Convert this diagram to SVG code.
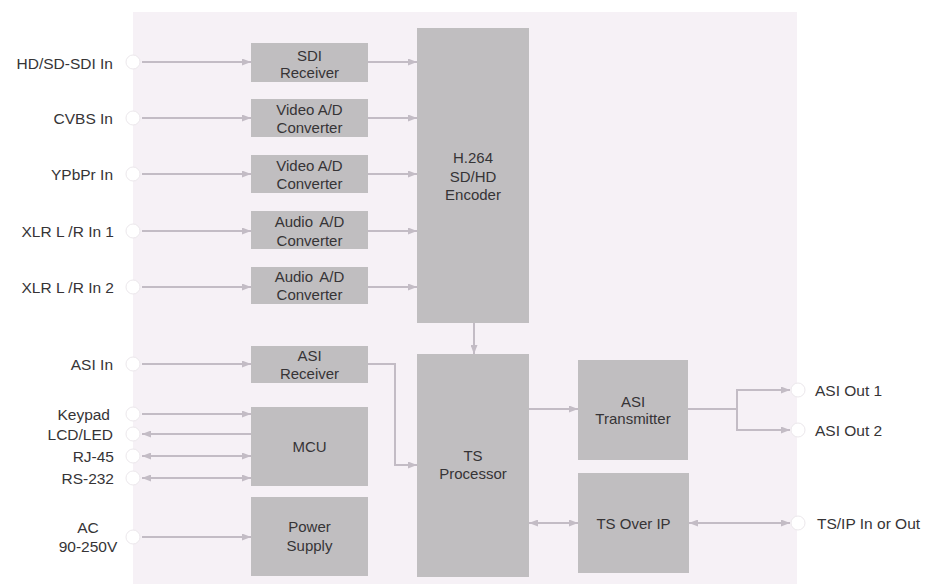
<svg xmlns="http://www.w3.org/2000/svg" width="952" height="584" viewBox="0 0 952 584">
<defs>
<marker id="ah" viewBox="0 0 9 7" refX="9" refY="3.5" markerWidth="9" markerHeight="7" markerUnits="userSpaceOnUse" orient="auto-start-reverse">
<path d="M0,0 L9,3.5 L0,7 z" fill="#c3bcc5"/>
</marker>
<style>
.box{fill:#c0bec0;}
.bt{font-family:"Liberation Sans",Arial,sans-serif;font-size:15px;fill:#363436;text-anchor:middle;}
.lt{font-family:"Liberation Sans",Arial,sans-serif;font-size:15.5px;fill:#363436;text-anchor:end;}
.rt{font-family:"Liberation Sans",Arial,sans-serif;font-size:15.5px;fill:#363436;text-anchor:start;}
.port{fill:#ffffff;stroke:#ece8ec;stroke-width:1;}
.c{stroke:#c3bcc5;stroke-width:2;fill:none;}
.a{marker-end:url(#ah);}
.d{marker-start:url(#ah);marker-end:url(#ah);}
.s{marker-start:url(#ah);}
</style>
</defs>
<rect width="952" height="584" fill="#ffffff"/>
<rect id="panel" x="133" y="12" width="664" height="572" fill="#f6f1f6"/>

<g id="connectors">
<line class="c a" x1="142" y1="62" x2="251" y2="62"/>
<line class="c a" x1="142" y1="118" x2="251" y2="118"/>
<line class="c a" x1="142" y1="174" x2="251" y2="174"/>
<line class="c a" x1="142" y1="231" x2="251" y2="231"/>
<line class="c a" x1="142" y1="287" x2="251" y2="287"/>
<line class="c a" x1="142" y1="364" x2="251" y2="364"/>
<line class="c a" x1="142" y1="414" x2="251" y2="414"/>
<line class="c s" x1="142" y1="434" x2="251" y2="434"/>
<line class="c d" x1="142" y1="456" x2="251" y2="456"/>
<line class="c d" x1="142" y1="478" x2="251" y2="478"/>
<line class="c a" x1="142" y1="537" x2="251" y2="537"/>
<line class="c a" x1="368" y1="62" x2="417" y2="62"/>
<line class="c a" x1="368" y1="118" x2="417" y2="118"/>
<line class="c a" x1="368" y1="174" x2="417" y2="174"/>
<line class="c a" x1="368" y1="231" x2="417" y2="231"/>
<line class="c a" x1="368" y1="287" x2="417" y2="287"/>
<polyline class="c a" points="368,364 395,364 395,465 417,465"/>
<line class="c a" x1="474" y1="323" x2="474" y2="354"/>
<line class="c a" x1="529" y1="409" x2="578" y2="409"/>
<polyline class="c" points="688,409 737,409"/>
<polyline class="c a" points="737,409 737,390 790,390"/>
<polyline class="c a" points="737,409 737,430 790,430"/>
<line class="c d" x1="529" y1="523" x2="578" y2="523"/>
<line class="c d" x1="689" y1="523" x2="790" y2="523"/>
</g>

<g id="ports">
<circle class="port" cx="133" cy="62" r="7"/>
<circle class="port" cx="133" cy="118" r="7"/>
<circle class="port" cx="133" cy="174" r="7"/>
<circle class="port" cx="133" cy="231" r="7"/>
<circle class="port" cx="133" cy="287" r="7"/>
<circle class="port" cx="133" cy="364" r="7"/>
<circle class="port" cx="133" cy="414" r="7"/>
<circle class="port" cx="133" cy="434" r="7"/>
<circle class="port" cx="133" cy="456" r="7"/>
<circle class="port" cx="133" cy="478" r="7"/>
<circle class="port" cx="133" cy="537" r="7"/>
<circle class="port" cx="798" cy="390" r="7"/>
<circle class="port" cx="798" cy="430" r="7"/>
<circle class="port" cx="798" cy="523" r="7"/>
</g>

<g id="labels">
<text class="lt" x="113" y="68.5">HD/SD-SDI In</text>
<text class="lt" x="113" y="123.5">CVBS In</text>
<text class="lt" x="113" y="179.5">YPbPr In</text>
<text class="lt" x="114" y="236.5">XLR L /R In 1</text>
<text class="lt" x="114" y="292.5">XLR L /R In 2</text>
<text class="lt" x="113" y="369.5">ASI In</text>
<text class="lt" x="110" y="419.5">Keypad</text>
<text class="lt" x="113" y="439.5">LCD/LED</text>
<text class="lt" x="114" y="461.5">RJ-45</text>
<text class="lt" x="114" y="483.5">RS-232</text>
<text class="lt" x="88" y="532.5" style="text-anchor:middle">AC</text>
<text class="lt" x="88" y="551.5" style="text-anchor:middle">90-250V</text>
<text class="rt" x="815" y="395.5">ASI Out 1</text>
<text class="rt" x="815" y="435.5">ASI Out 2</text>
<text class="rt" x="817" y="528.5">TS/IP In or Out</text>
</g>

<g id="sdi-receiver"><rect class="box" x="251" y="43" width="117" height="39"/><text class="bt" x="309.5" y="60.5">SDI</text><text class="bt" x="309.5" y="77.5">Receiver</text></g>
<g id="video-ad-1"><rect class="box" x="251" y="99" width="117" height="38"/><text class="bt" x="309.5" y="114.5">Video A/D</text><text class="bt" x="309.5" y="132.5">Converter</text></g>
<g id="video-ad-2"><rect class="box" x="251" y="155" width="117" height="38"/><text class="bt" x="309.5" y="170.5">Video A/D</text><text class="bt" x="309.5" y="188.5">Converter</text></g>
<g id="audio-ad-1"><rect class="box" x="251" y="211" width="117" height="38"/><text class="bt" x="309.5" y="227" word-spacing="3">Audio A/D</text><text class="bt" x="309.5" y="245.5">Converter</text></g>
<g id="audio-ad-2"><rect class="box" x="251" y="267" width="117" height="37"/><text class="bt" x="309.5" y="282" word-spacing="3">Audio A/D</text><text class="bt" x="309.5" y="300">Converter</text></g>
<g id="asi-receiver"><rect class="box" x="251" y="346" width="117" height="37"/><text class="bt" x="309.5" y="360.5">ASI</text><text class="bt" x="309.5" y="378.5">Receiver</text></g>
<g id="mcu"><rect class="box" x="251" y="407" width="117" height="79"/><text class="bt" x="309.5" y="451.5">MCU</text></g>
<g id="power-supply"><rect class="box" x="251" y="497" width="117" height="79"/><text class="bt" x="309.5" y="532">Power</text><text class="bt" x="309.5" y="550.5">Supply</text></g>
<g id="encoder"><rect class="box" x="417" y="28" width="112" height="295"/><text class="bt" x="473" y="162.5">H.264</text><text class="bt" x="473" y="181.5">SD/HD</text><text class="bt" x="473" y="199.5">Encoder</text></g>
<g id="ts-processor"><rect class="box" x="417" y="354" width="112" height="223"/><text class="bt" x="473" y="460.5">TS</text><text class="bt" x="473" y="478.5">Processor</text></g>
<g id="asi-transmitter"><rect class="box" x="578" y="360" width="110" height="100"/><text class="bt" x="633" y="406.5">ASI</text><text class="bt" x="633" y="423.5">Transmitter</text></g>
<g id="ts-over-ip"><rect class="box" x="578" y="473" width="111" height="100"/><text class="bt" x="633.5" y="528.5">TS Over IP</text></g>
</svg>
